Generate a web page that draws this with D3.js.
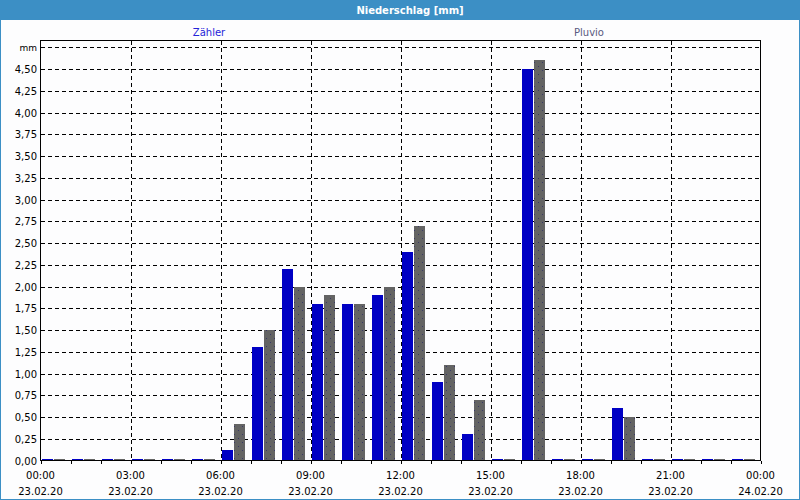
<!DOCTYPE html>
<html><head><meta charset="utf-8">
<script src="https://cdn.jsdelivr.net/npm/d3@7"></script>
<style>
html,body{margin:0;padding:0;background:#fff;}
svg{display:block;font-family:"DejaVu Sans",Verdana,sans-serif;}
</style></head>
<body>
<svg id="chart" width="800" height="500"></svg>
<script>
// ---- data ----
const title = "Niederschlag [mm]";
const seriesNames = ["Zähler", "Pluvio"];
const hours = d3.range(0, 24); // hourly intervals starting 23.02.20 00:00
const zaehler = [0,0,0,0,0,0,0.12,1.3,2.2,1.8,1.8,1.9,2.4,0.9,0.3,0,4.5,0,0,0.6,0,0,0,0];
const pluvio  = [0,0,0,0,0,0,0.42,1.5,2.0,1.9,1.8,2.0,2.7,1.1,0.7,0,4.6,0,0,0.5,0,0,0,0];
const yTicks = [0,0.25,0.5,0.75,1,1.25,1.5,1.75,2,2.25,2.5,2.75,3,3.25,3.5,3.75,4,4.25,4.5,4.75];
const yUnitLabel = "mm";
const xTickHours = [0,3,6,9,12,15,18,21,24];
const xDateLabels = ["23.02.20","23.02.20","23.02.20","23.02.20","23.02.20","23.02.20","23.02.20","23.02.20","24.02.20"];

// ---- layout ----
const W = 800, H = 500;
const plot = {left: 40.5, right: 760.5, top: 40.5, bottom: 460.5};
const colors = {bar1: "#0000c4", bar2: "#646464", frame: "#3c8fc5"};

const svg = d3.select("#chart");
const t0 = new Date(2020, 1, 23, 0, 0);
const hourDate = h => new Date(t0.getTime() + h * 3600000);

const x = d3.scaleTime().domain([hourDate(0), hourDate(24)]).range([plot.left, plot.right]);
const y = d3.scaleLinear().domain([0, 4.75]).range([plot.bottom, 47.25]);

// background + window frame
svg.append("rect").attr("x",0).attr("y",0).attr("width",W).attr("height",H).attr("fill","#fdfdfe");
svg.append("rect").attr("x",0.5).attr("y",0.5).attr("width",W-1).attr("height",H-1)
  .attr("fill","none").attr("stroke",colors.frame).attr("stroke-width",1);
svg.append("rect").attr("x",0).attr("y",0).attr("width",W).attr("height",20).attr("fill",colors.frame);
svg.append("text").attr("x",410).attr("y",14).attr("text-anchor","middle")
  .attr("fill","#fff").attr("font-weight","bold").attr("font-size",10).text(title);

// legend
svg.append("text").attr("x",209).attr("y",36).attr("text-anchor","middle")
  .attr("font-size",10).attr("fill","#2424d8").text(seriesNames[0]);
svg.append("text").attr("x",589).attr("y",36).attr("text-anchor","middle")
  .attr("font-size",10).attr("fill","#5a5a80").text(seriesNames[1]);

// pattern for gray bars
const defs = svg.append("defs");
const pat = defs.append("pattern").attr("id","dots").attr("patternUnits","userSpaceOnUse")
  .attr("width",8).attr("height",8);
pat.append("rect").attr("width",8).attr("height",8).attr("fill",colors.bar2);
pat.append("rect").attr("x",2).attr("y",2).attr("width",1).attr("height",1).attr("fill","#3a3a66");
pat.append("rect").attr("x",6).attr("y",6).attr("width",1).attr("height",1).attr("fill","#3a3a66");

// horizontal gridlines
const dash = "4,3";
svg.append("g").selectAll("line").data(yTicks.filter(v => v > 0)).join("line")
  .attr("x1", plot.left).attr("x2", plot.right)
  .attr("y1", d => Math.round(y(d)) + 0.5).attr("y2", d => Math.round(y(d)) + 0.5)
  .attr("stroke","#000").attr("stroke-dasharray",dash).attr("shape-rendering","crispEdges");

// vertical gridlines
svg.append("g").selectAll("line").data(xTickHours.filter(h => h > 0 && h < 24)).join("line")
  .attr("x1", d => Math.round(x(hourDate(d))) + 0.5).attr("x2", d => Math.round(x(hourDate(d))) + 0.5)
  .attr("y1", plot.top).attr("y2", plot.bottom)
  .attr("stroke","#000").attr("stroke-dasharray",dash).attr("shape-rendering","crispEdges");

// bars
const barFrac = 0.367, offFrac = 0.045, gapFrac = 0.035;
function barGeom(h, k) {
  const xa = x(hourDate(h)), xb = x(hourDate(h + 1)), w = xb - xa;
  const bx = xa + w * offFrac + k * (w * barFrac + w * gapFrac);
  return {x: Math.round(bx), w: Math.round(w * barFrac)};
}
function drawBars(vals, k, fill) {
  svg.append("g").selectAll("rect").data(hours).join("rect")
    .attr("x", h => barGeom(h, k).x)
    .attr("width", h => barGeom(h, k).w)
    .attr("y", h => Math.min(Math.round(y(vals[h])), 459))
    .attr("height", h => Math.max(Math.round(y(0)) - Math.round(y(vals[h])), 1.5))
    .attr("fill", fill).attr("shape-rendering","crispEdges");
}
drawBars(zaehler, 0, colors.bar1);
drawBars(pluvio, 1, "url(#dots)");

// frame of plot
svg.append("rect").attr("x",plot.left).attr("y",plot.top)
  .attr("width",plot.right-plot.left).attr("height",plot.bottom-plot.top)
  .attr("fill","none").attr("stroke","#000").attr("shape-rendering","crispEdges");

// hourly tick marks below axis
svg.append("g").selectAll("line").data(d3.range(0,25)).join("line")
  .attr("x1", d => Math.round(x(hourDate(d))) + 0.5).attr("x2", d => Math.round(x(hourDate(d))) + 0.5)
  .attr("y1", plot.bottom).attr("y2", plot.bottom + 3)
  .attr("stroke","#000").attr("shape-rendering","crispEdges");

// y labels
const fmt = v => d3.format(".2f")(v).replace(".", ",");
svg.append("g").selectAll("text").data(yTicks).join("text")
  .attr("x", 37).attr("y", d => y(d) + 4).attr("text-anchor","end")
  .attr("fill","#000")
  .text(d => d === 4.75 ? yUnitLabel : fmt(d))
  .attr("font-size", d => d === 4.75 ? 9 : 10);

// x labels
const xl = svg.append("g");
xl.selectAll("text.t").data(xTickHours).join("text").attr("class","t")
  .attr("x", d => x(hourDate(d))).attr("y", 479).attr("text-anchor","middle")
  .attr("font-size",10).text(d => d3.timeFormat("%H:%M")(hourDate(d)));
xl.selectAll("text.d").data(xTickHours).join("text").attr("class","d")
  .attr("x", d => x(hourDate(d))).attr("y", 495).attr("text-anchor","middle")
  .attr("font-size",10).text((d, i) => xDateLabels[i]);
</script>
</body></html>
